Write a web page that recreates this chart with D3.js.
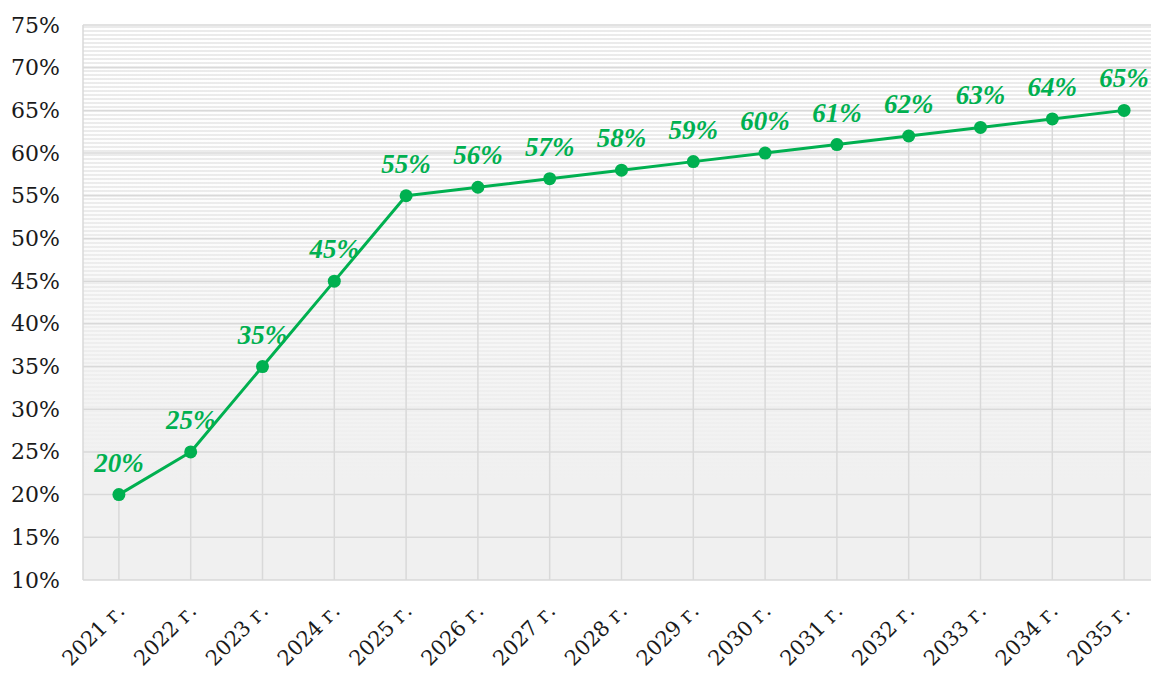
<!DOCTYPE html>
<html>
<head>
<meta charset="utf-8">
<script src="https://cdn.jsdelivr.net/npm/d3@7"></script>
<style>
    body { margin: 0; background: #fff; }
    svg { display: block; }
</style>
</head>
<body>
<svg id="chart" width="1151" height="673"></svg>
<script>
var years = ["2021 г.", "2022 г.", "2023 г.", "2024 г.", "2025 г.", "2026 г.", "2027 г.",
             "2028 г.", "2029 г.", "2030 г.", "2031 г.", "2032 г.", "2033 г.", "2034 г.", "2035 г."],
    shares = [20, 25, 35, 45, 55, 56, 57, 58, 59, 60, 61, 62, 63, 64, 65],
    yTicks = [10, 15, 20, 25, 30, 35, 40, 45, 50, 55, 60, 65, 70, 75];

var green = "#00b050",
    grid = "#d9d9d9";

function draw() {
    var svg = d3.select("#chart"),
        left = 83, top = 25, right = 1160, bottom = 580;

    var x = d3.scalePoint().domain(years).range([left, right]).padding(0.5),
        y = d3.scaleLinear().domain([10, 75]).range([bottom, top]);

    var defs = svg.append("defs");
    var pat = defs.append("pattern")
        .attr("id", "stripes")
        .attr("patternUnits", "userSpaceOnUse")
        .attr("width", 8).attr("height", 4);
    pat.append("rect").attr("width", 8).attr("height", 4).attr("fill", "#ffffff");
    pat.append("rect").attr("y", 2).attr("width", 8).attr("height", 2).attr("fill", "#ebebeb");

    var grad = defs.append("linearGradient")
        .attr("id", "fade")
        .attr("x1", 0).attr("y1", 0).attr("x2", 0).attr("y2", 1);
    grad.append("stop").attr("offset", "0%").attr("stop-color", "#f0f0f0").attr("stop-opacity", 0);
    grad.append("stop").attr("offset", "30%").attr("stop-color", "#f0f0f0").attr("stop-opacity", 0.15);
    grad.append("stop").attr("offset", "82%").attr("stop-color", "#f0f0f0").attr("stop-opacity", 1);
    grad.append("stop").attr("offset", "100%").attr("stop-color", "#f0f0f0").attr("stop-opacity", 1);

    // plot background
    svg.append("rect")
        .attr("x", left).attr("y", top)
        .attr("width", right - left).attr("height", bottom - top)
        .attr("fill", "url(#stripes)");
    svg.append("rect")
        .attr("x", left).attr("y", top)
        .attr("width", right - left).attr("height", bottom - top)
        .attr("fill", "url(#fade)");

    // horizontal gridlines
    svg.append("g")
        .selectAll("line")
        .data(yTicks)
        .join("line")
            .attr("x1", left).attr("x2", right)
            .attr("y1", function(d) { return y(d); })
            .attr("y2", function(d) { return y(d); })
            .attr("stroke", grid)
            .attr("stroke-width", 1.5);

    // plot border (left)
    svg.append("line")
        .attr("x1", left).attr("x2", left)
        .attr("y1", top).attr("y2", bottom)
        .attr("stroke", grid).attr("stroke-width", 1.5);

    // drop lines
    svg.append("g")
        .selectAll("line")
        .data(shares)
        .join("line")
            .attr("x1", function(d, i) { return x(years[i]); })
            .attr("x2", function(d, i) { return x(years[i]); })
            .attr("y1", function(d) { return y(d); })
            .attr("y2", bottom)
            .attr("stroke", grid)
            .attr("stroke-width", 1.5);

    // y axis labels
    var yAxis = svg.append("g")
        .attr("transform", "translate(" + left + ",0)")
        .call(d3.axisLeft(y).tickValues(yTicks).tickSize(0).tickPadding(23)
            .tickFormat(function(d) { return d + "%"; }));
    yAxis.select(".domain").remove();
    yAxis.selectAll("text")
        .attr("fill", "#1a1a1a")
        .style("font-family", "'DejaVu Serif', serif")
        .style("font-size", "22px");

    // x axis labels
    svg.append("g")
        .selectAll("text")
        .data(years)
        .join("text")
            .attr("transform", function(d) {
                return "translate(" + (x(d) + 7) + ",612) rotate(-45)";
            })
            .attr("text-anchor", "end")
            .attr("fill", "#1a1a1a")
            .style("font-family", "'DejaVu Serif', serif")
            .style("font-size", "21px")
            .text(function(d) { return d; });

    // line
    var line = d3.line()
        .x(function(d, i) { return x(years[i]); })
        .y(function(d) { return y(d); });

    svg.append("path")
        .datum(shares)
        .attr("fill", "none")
        .attr("stroke", green)
        .attr("stroke-width", 3)
        .attr("stroke-linejoin", "round")
        .attr("d", line);

    svg.append("g")
        .selectAll("circle")
        .data(shares)
        .join("circle")
            .attr("cx", function(d, i) { return x(years[i]); })
            .attr("cy", function(d) { return y(d); })
            .attr("r", 6.5)
            .attr("fill", green);

    // data labels
    svg.append("g")
        .selectAll("text")
        .data(shares)
        .join("text")
            .attr("x", function(d, i) { return x(years[i]); })
            .attr("y", function(d) { return y(d) - 23; })
            .attr("text-anchor", "middle")
            .attr("fill", green)
            .style("font-family", "'Liberation Serif', serif")
            .style("font-weight", "bold")
            .style("font-style", "italic")
            .style("font-size", "27px")
            .text(function(d) { return d + "%"; });
}

draw();
</script>
</body>
</html>
